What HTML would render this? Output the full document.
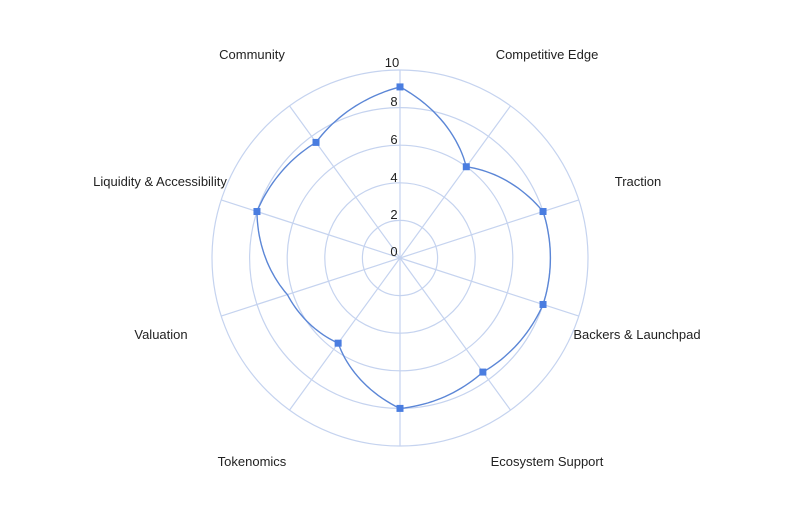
<!DOCTYPE html>
<html><head><style>
html,body{margin:0;padding:0;background:#fff;}
svg text{font-family:"Liberation Sans",sans-serif;font-size:13px;fill:#222;}
</style></head><body>
<svg id="s" width="810" height="517" viewBox="0 0 810 517" xmlns="http://www.w3.org/2000/svg">
<g fill="none" stroke="#c5d3ef" stroke-width="1.2">
<circle cx="400" cy="258" r="37.6"/><circle cx="400" cy="258" r="75.2"/><circle cx="400" cy="258" r="112.8"/><circle cx="400" cy="258" r="150.4"/><circle cx="400" cy="258" r="188"/>
</g>
<g id="axes" stroke="#c5d3ef" stroke-width="1.2"></g>
<path id="curve" fill="none" stroke="#5b86d6" stroke-width="1.4"/>
<g id="marks" fill="#4a7de0"></g>
<g text-anchor="middle">
<text x="392" y="67">10</text><text x="394" y="106">8</text><text x="394" y="144">6</text><text x="394" y="182">4</text><text x="394" y="219">2</text><text x="394" y="256">0</text>
<text x="252" y="59">Community</text>
<text x="547" y="59">Competitive Edge</text>
<text x="638" y="186">Traction</text>
<text x="160" y="186">Liquidity &amp; Accessibility</text>
<text x="637" y="339">Backers &amp; Launchpad</text>
<text x="161" y="339">Valuation</text>
<text x="547" y="466">Ecosystem Support</text>
<text x="252" y="466">Tokenomics</text>
</g>
</svg>
<script>
var cx=400,cy=258,R=18.8;
var v=[9.1,6,8,8,7.5,8,5.6,6.3,8,7.6];
var mk=[1,1,1,1,1,1,1,0,1,1];
var ns="http://www.w3.org/2000/svg";
var ax=document.getElementById('axes'),mg=document.getElementById('marks');
function pt(a,r){return [cx+Math.sin(a)*r*R,cy-Math.cos(a)*r*R];}
for(var i=0;i<10;i++){var a=i*Math.PI/5;var p=pt(a,10);
var l=document.createElementNS(ns,'line');l.setAttribute('x1',cx);l.setAttribute('y1',cy);l.setAttribute('x2',p[0]);l.setAttribute('y2',p[1]);ax.appendChild(l);
if(mk[i]){var q=pt(a,v[i]);var r=document.createElementNS(ns,'rect');r.setAttribute('x',q[0]-3.5);r.setAttribute('y',q[1]-3.5);r.setAttribute('width',7);r.setAttribute('height',7);mg.appendChild(r);}}
var d='';
for(var i=0;i<10;i++){for(var k=0;k<20;k++){var t=k/20;var a=(i+t)*Math.PI/5;var r=v[i]*(1-t)+v[(i+1)%10]*t;var p=pt(a,r);d+=(d?'L':'M')+p[0].toFixed(1)+' '+p[1].toFixed(1);}}
document.getElementById('curve').setAttribute('d',d+'Z');
</script>
</body></html>
